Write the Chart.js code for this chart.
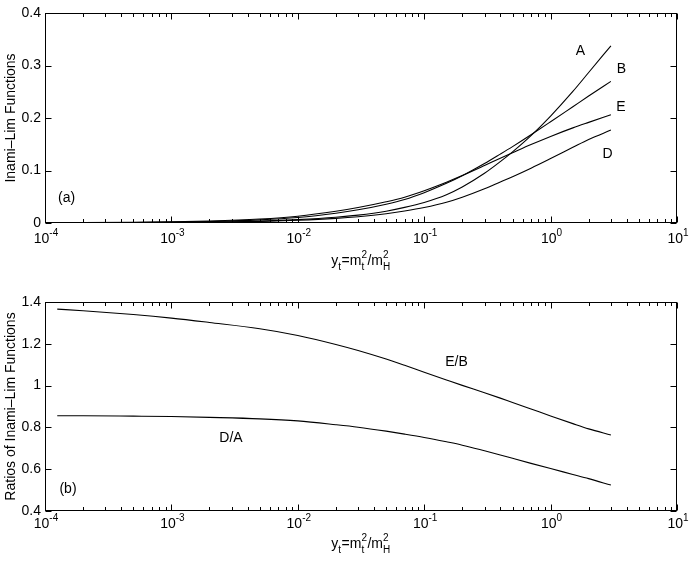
<!DOCTYPE html>
<html>
<head>
<meta charset="utf-8">
<script src="https://cdn.jsdelivr.net/npm/chart.js@4.4.1/dist/chart.umd.min.js"></script>
<style>
  html, body { margin: 0; padding: 0; background: #fff; }
  #wrap { position: relative; width: 692px; height: 565px; }
  .panel { position: absolute; left: 0; width: 692px; }
</style>
</head>
<body>
<div id="wrap">
  <div class="panel" style="top:0;height:280px"><canvas id="c1"></canvas></div>
  <div class="panel" style="top:280px;height:285px"><canvas id="c2"></canvas></div>
</div>
<script>
// ---- data ----
const xValues = [1.25e-4, 2e-4, 5e-4, 1e-3, 2e-3, 5e-3, 1e-2, 2e-2, 3e-2, 5e-2, 7e-2, 0.1, 0.15, 0.2, 0.3, 0.4, 0.5, 0.7, 1, 1.5, 2, 3];
const seriesA = [0.00015, 0.00023, 0.0005, 0.0009, 0.00163, 0.00355, 0.0064, 0.0109, 0.0150, 0.0225, 0.0297, 0.0392, 0.0540, 0.0687, 0.0948, 0.1170, 0.1355, 0.1664, 0.2037, 0.2506, 0.2867, 0.3375];
const seriesB = [0.00032, 0.00046, 0.00095, 0.00166, 0.0029, 0.0060, 0.0105, 0.0186, 0.0251, 0.0358, 0.0448, 0.0578, 0.0755, 0.0900, 0.1132, 0.1312, 0.1455, 0.1681, 0.1929, 0.2215, 0.2418, 0.2698];
const seriesE = [0.00044, 0.00062, 0.00127, 0.0022, 0.00378, 0.00763, 0.0130, 0.0223, 0.0294, 0.0404, 0.0491, 0.0615, 0.0777, 0.0903, 0.1094, 0.1233, 0.1337, 0.1493, 0.1649, 0.1812, 0.1917, 0.2061];
const seriesD = [0.00013, 0.0002, 0.00043, 0.00077, 0.00138, 0.0030, 0.0053, 0.0089, 0.0120, 0.0176, 0.0228, 0.0295, 0.0395, 0.0491, 0.0652, 0.0782, 0.0883, 0.1045, 0.1228, 0.1441, 0.1591, 0.1770];
const ratioEB = [1.366, 1.358, 1.340, 1.323, 1.302, 1.272, 1.240, 1.197, 1.168, 1.127, 1.097, 1.064, 1.027, 1.001, 0.966, 0.940, 0.919, 0.888, 0.855, 0.818, 0.793, 0.764];
const ratioDA = [0.856, 0.856, 0.854, 0.852, 0.848, 0.841, 0.831, 0.813, 0.801, 0.782, 0.768, 0.752, 0.731, 0.715, 0.688, 0.668, 0.652, 0.628, 0.603, 0.575, 0.555, 0.524];

const xDecades = [-4, -3, -2, -1, 0, 1];
const yTicksTop = [0, 0.1, 0.2, 0.3, 0.4];
const yTicksBottom = [0.4, 0.6, 0.8, 1.0, 1.2, 1.4];
const yTitleTop = 'Inami\u2013Lim Functions';
const yTitleBottom = 'Ratios of Inami\u2013Lim Functions';

// text labels placed in data coordinates
const labelsTop = [
  { text: 'A', x: 1.72, y: 0.328 },
  { text: 'B', x: 3.64, y: 0.294 },
  { text: 'E', x: 3.60, y: 0.220 },
  { text: 'D', x: 2.82, y: 0.131 },
  { text: '(a)', x: 1.48e-4, y: 0.048 }
];
const labelsBottom = [
  { text: 'E/B', x: 0.180, y: 1.113 },
  { text: 'D/A', x: 2.96e-3, y: 0.749 },
  { text: '(b)', x: 1.52e-4, y: 0.505 }
];

// ---- helpers ----
const FONT = '"Liberation Sans", Arial, Helvetica, sans-serif';
function pts(ys) { return xValues.map((x, i) => ({ x: x, y: ys[i] })); }
function ds(ys) {
  return { data: pts(ys), borderColor: '#000', borderWidth: 1.1, pointRadius: 0,
           fill: false, cubicInterpolationMode: 'monotone' };
}
function fmt(v) { return String(Number(v.toFixed(2))); }

function drawXTitle(ctx, cx, base) {
  const big = '14px ' + FONT, small = '10px ' + FONT;
  const parts = [
    { t: 'y' }, { sub: 't' }, { t: '=m' }, { sup: '2', sub: 't' },
    { t: '/m' }, { sup: '2', sub: 'H' }
  ];
  let w = 0;
  parts.forEach(p => {
    if (p.t) { ctx.font = big; p.w = ctx.measureText(p.t).width; }
    else { ctx.font = small; p.w = Math.max(p.sup ? ctx.measureText(p.sup).width : 0, ctx.measureText(p.sub).width) + 0.5; }
    w += p.w;
  });
  let x = cx - w / 2;
  ctx.textAlign = 'left'; ctx.textBaseline = 'alphabetic';
  parts.forEach(p => {
    if (p.t) { ctx.font = big; ctx.fillText(p.t, x, base); }
    else {
      ctx.font = small;
      if (p.sup) ctx.fillText(p.sup, x, base - 7);
      ctx.fillText(p.sub, x, base + 5);
    }
    x += p.w;
  });
}

function framePlugin(cfg) {
  return {
    id: 'frame',
    afterDraw(chart) {
      const { ctx, chartArea: a, scales } = chart;
      const xs = scales.x, ys = scales.y;
      ctx.save();
      ctx.strokeStyle = '#000'; ctx.fillStyle = '#000'; ctx.lineWidth = 1;
      const L = Math.round(a.left) + 0.5, R = Math.round(a.right) - 0.5;
      const T = Math.round(a.top) + 0.5, B = Math.round(a.bottom) - 0.5;
      ctx.strokeRect(L, T, R - L, B - T);
      ctx.beginPath();
      xDecades.forEach(e => {
        for (let m = 1; m <= 9; m++) {
          const v = m * Math.pow(10, e);
          if (v > 10.0001) break;
          const px = Math.round(xs.getPixelForValue(v)) + 0.5;
          const len = m === 1 ? 6 : 3.5;
          ctx.moveTo(px, B); ctx.lineTo(px, B - len);
          ctx.moveTo(px, T); ctx.lineTo(px, T + len);
        }
      });
      cfg.yTicks.forEach(v => {
        const py = Math.round(ys.getPixelForValue(v)) + 0.5;
        ctx.moveTo(L, py); ctx.lineTo(L + 6, py);
        ctx.moveTo(R, py); ctx.lineTo(R - 6, py);
      });
      ctx.stroke();
      ctx.font = '14px ' + FONT;
      ctx.textAlign = 'right'; ctx.textBaseline = 'middle';
      cfg.yTicks.forEach(v => {
        ctx.fillText(fmt(v), a.left - 4, ys.getPixelForValue(v));
      });
      ctx.textBaseline = 'alphabetic';
      xDecades.forEach(e => {
        const px = xs.getPixelForValue(Math.pow(10, e));
        ctx.font = '14px ' + FONT;
        const w1 = ctx.measureText('10').width;
        const ex = String(e);
        ctx.font = '10px ' + FONT;
        const w2 = ctx.measureText(ex).width;
        const x0 = px - (w1 + w2) / 2 + 1;
        ctx.textAlign = 'left';
        ctx.font = '14px ' + FONT;
        ctx.fillText('10', x0, a.bottom + cfg.tickBase);
        ctx.font = '10px ' + FONT;
        ctx.fillText(ex, x0 + w1, a.bottom + cfg.tickBase - 7);
      });
      drawXTitle(ctx, (a.left + a.right) / 2, a.bottom + cfg.titleBase);
      ctx.save();
      ctx.translate(11, (a.top + a.bottom) / 2);
      ctx.rotate(-Math.PI / 2);
      ctx.font = '14px ' + FONT; ctx.textAlign = 'center'; ctx.textBaseline = 'middle';
      ctx.fillText(cfg.yTitle, 0, 0);
      ctx.restore();
      ctx.font = '14px ' + FONT; ctx.textAlign = 'center'; ctx.textBaseline = 'middle';
      cfg.labels.forEach(l => {
        ctx.fillText(l.text, xs.getPixelForValue(l.x), ys.getPixelForValue(l.y));
      });
      ctx.restore();
    }
  };
}

function makeChart(id, datasets, ymin, ymax, step, padTop, xAxisH, cfg) {
  return new Chart(document.getElementById(id), {
    type: 'line',
    data: { datasets: datasets },
    options: {
      responsive: true, maintainAspectRatio: false, animation: false,
      layout: { padding: { top: padTop, right: 15, left: 0, bottom: 0 } },
      plugins: { legend: { display: false }, tooltip: { enabled: false } },
      events: [],
      scales: {
        x: { type: 'logarithmic', min: 1e-4, max: 10,
             grid: { display: false }, border: { display: false },
             ticks: { display: false },
             afterFit: s => { s.height = xAxisH; } },
        y: { type: 'linear', min: ymin, max: ymax,
             grid: { display: false }, border: { display: false },
             ticks: { display: false, stepSize: step },
             afterFit: s => { s.width = 45; } }
      }
    },
    plugins: [framePlugin(cfg)]
  });
}

makeChart('c1', [ds(seriesA), ds(seriesB), ds(seriesE), ds(seriesD)], 0, 0.4, 0.1, 13, 57,
  { yTicks: yTicksTop, yTitle: yTitleTop, labels: labelsTop, tickBase: 20, titleBase: 42 });
makeChart('c2', [ds(ratioEB), ds(ratioDA)], 0.4, 1.4, 0.2, 22, 54,
  { yTicks: yTicksBottom, yTitle: yTitleBottom, labels: labelsBottom, tickBase: 17, titleBase: 37 });
</script>
</body>
</html>
